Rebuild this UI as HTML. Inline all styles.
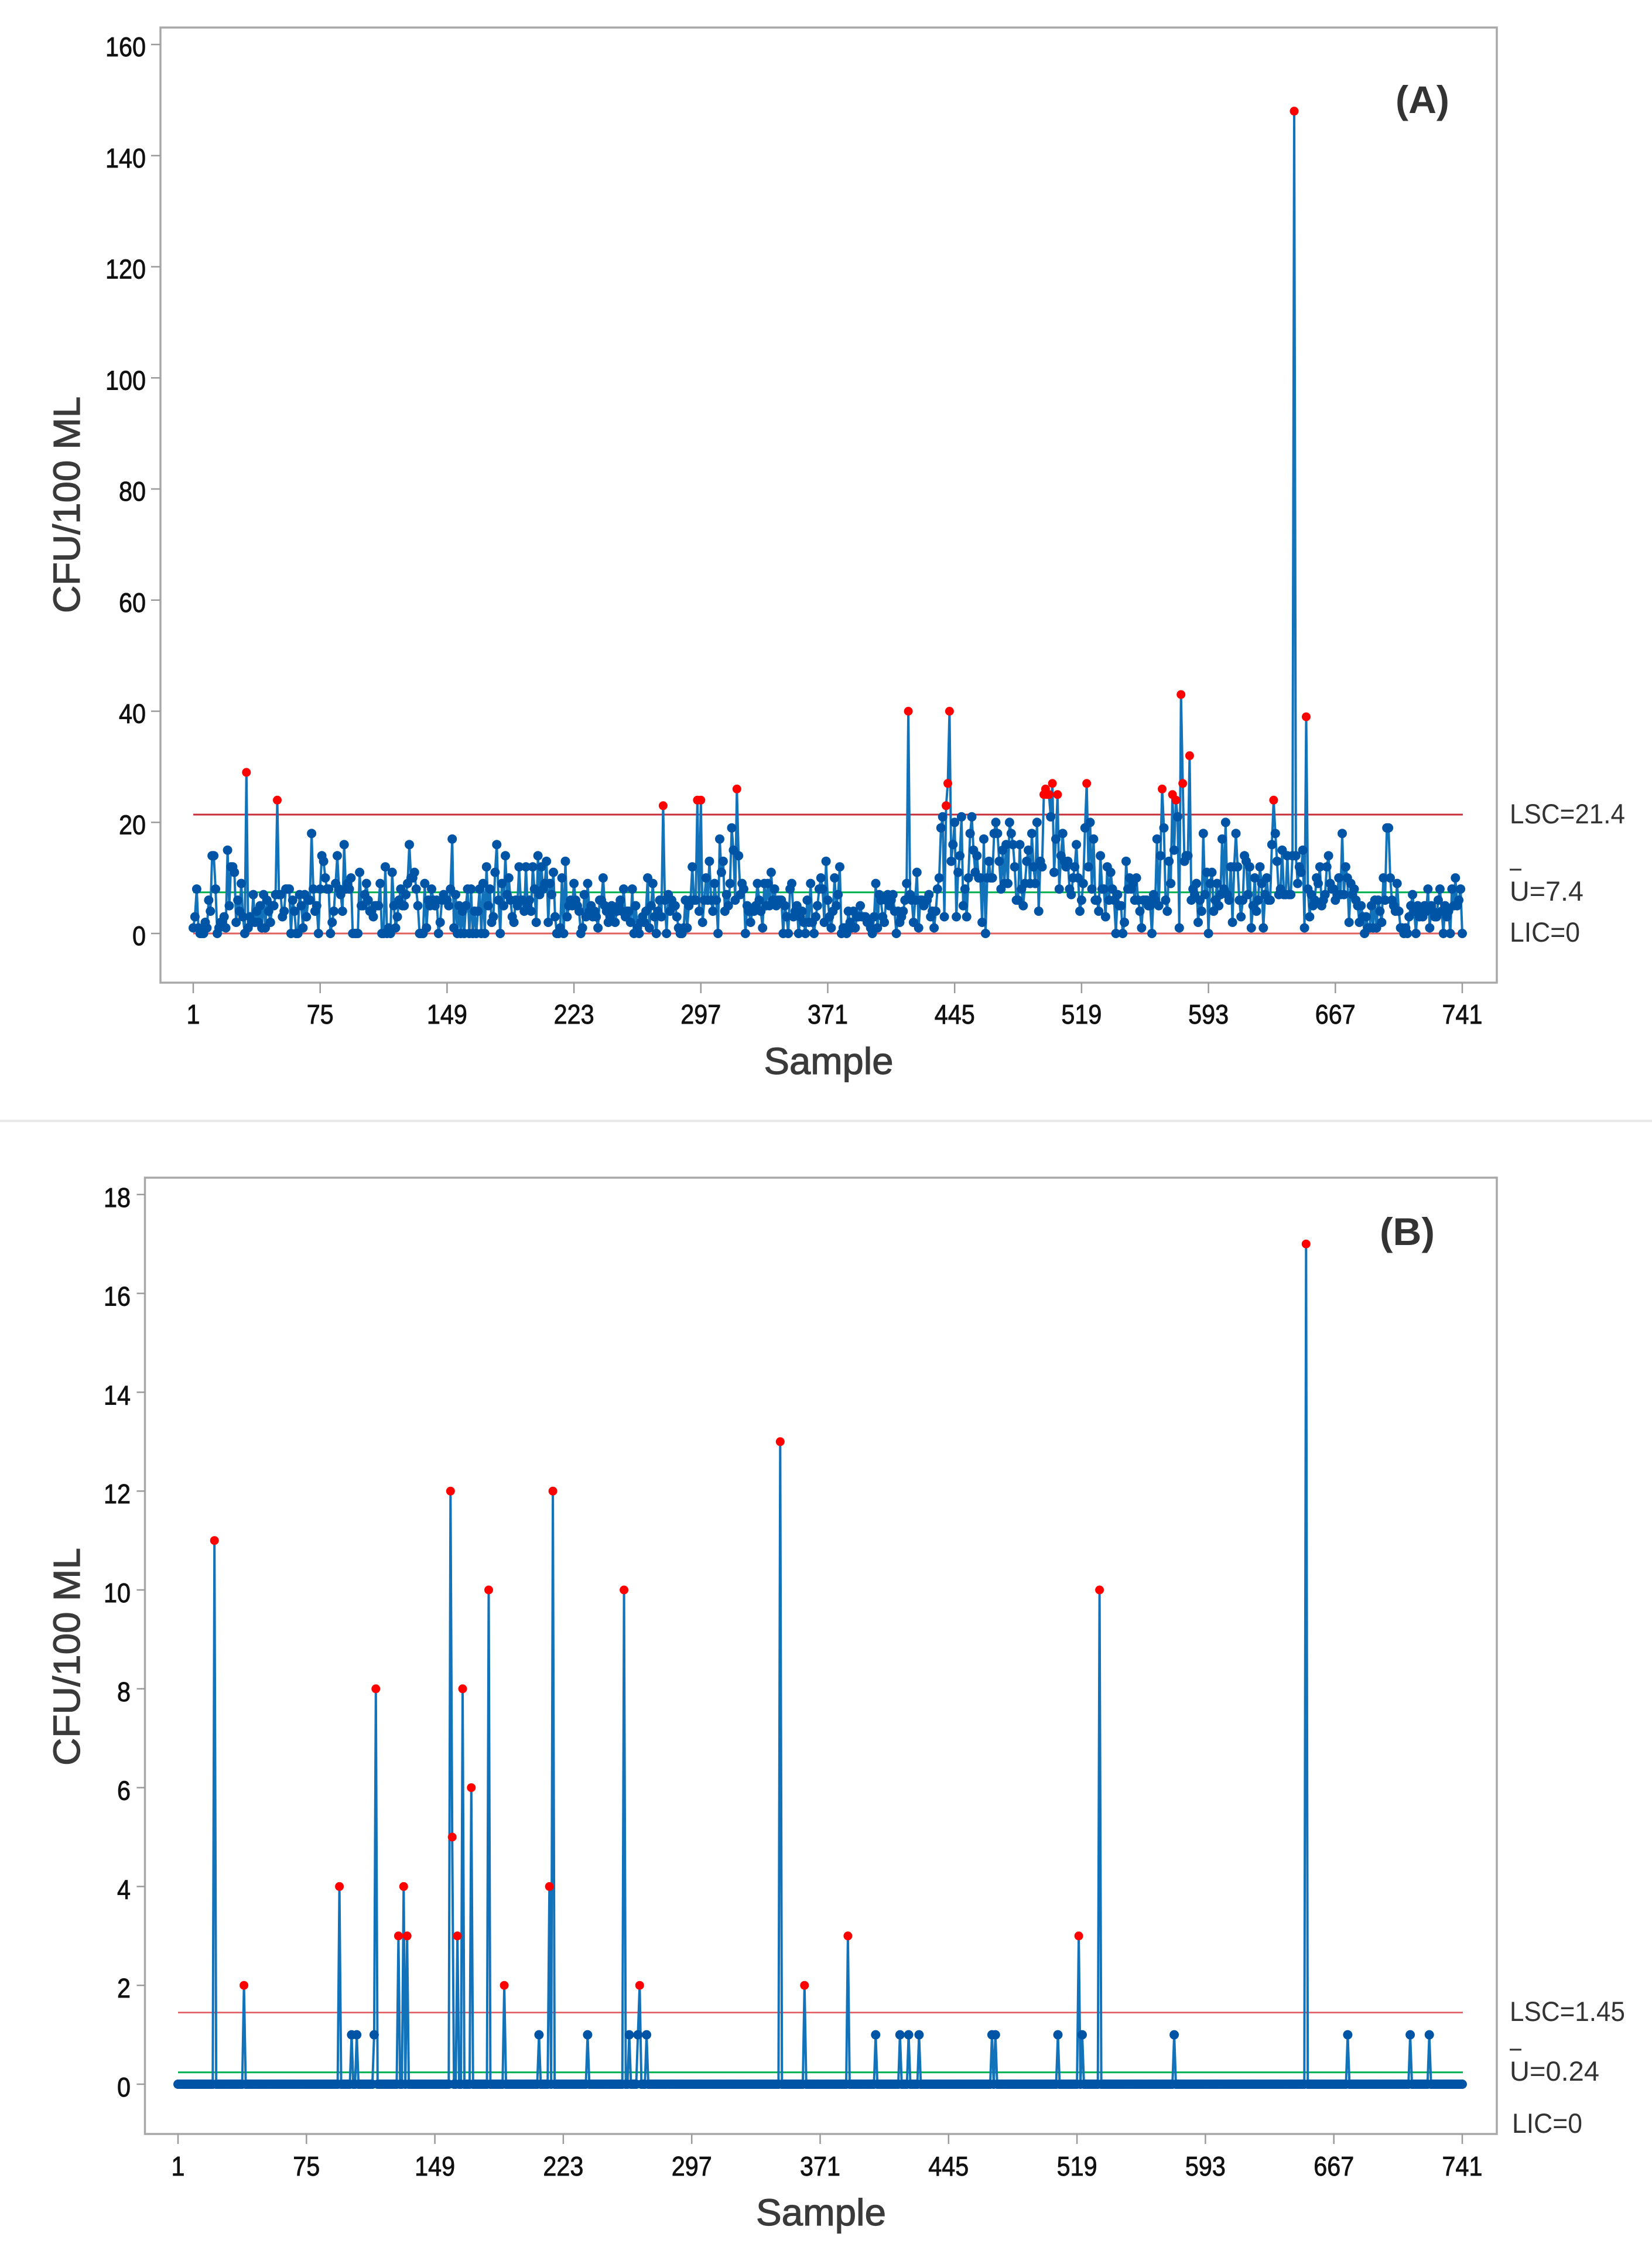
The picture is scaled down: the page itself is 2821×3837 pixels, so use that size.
<!DOCTYPE html>
<html lang="en">
<head>
<meta charset="utf-8">
<title>U control charts (A) and (B)</title>
<style>
html,body{margin:0;padding:0;background:#fff;}
svg{display:block;}
text{font-family:"Liberation Sans",sans-serif;}
#ticksA text,#ticksB text{stroke:#111111;stroke-width:0.9px;}
.axis-title{stroke:#3a3a3a;stroke-width:1.2px;}
</style>
</head>
<body>
<svg id="figure" xmlns="http://www.w3.org/2000/svg" width="2821" height="3837" viewBox="0 0 2821 3837">
  <rect x="0" y="0" width="2821" height="3837" fill="#ffffff"/>
  <line x1="0" x2="2821" y1="1914" y2="1914" stroke="#e9e9e9" stroke-width="4"/>

  <g id="panelA">
    <rect x="274" y="47" width="2282" height="1631" fill="none" stroke="#a8a8a8" stroke-width="3.5"/>
    <g id="ticksA"></g>
    <line id="uclA" stroke="#c62f38" stroke-width="3"/>
    <line id="clA" stroke="#00b04f" stroke-width="3"/>
    <line id="lclA" stroke="#e0605f" stroke-width="3"/>
    <polyline id="lineA" fill="none" stroke="#1273ba" stroke-width="4" stroke-linejoin="round"/>
    <g id="pointsA"></g>
    <text x="2429" y="193" text-anchor="middle" font-size="66" font-weight="700" fill="#333333" textLength="92" lengthAdjust="spacingAndGlyphs">(A)</text>
    <text class="axis-title" x="1415" y="1834" text-anchor="middle" font-size="64" fill="#3a3a3a" textLength="221" lengthAdjust="spacingAndGlyphs">Sample</text>
    <text class="axis-title" transform="translate(136,862) rotate(-90)" text-anchor="middle" font-size="64" fill="#3a3a3a" textLength="370" lengthAdjust="spacingAndGlyphs">CFU/100 ML</text>
    <text x="2578" y="1406" font-size="47" fill="#333333" textLength="197" lengthAdjust="spacingAndGlyphs">LSC=21.4</text>
    <line x1="2578" x2="2598" y1="1485" y2="1485" stroke="#333333" stroke-width="3"/>
    <text x="2578" y="1538" font-size="47" fill="#333333" textLength="126" lengthAdjust="spacingAndGlyphs">U=7.4</text>
    <text x="2578" y="1608" font-size="47" fill="#333333" textLength="120" lengthAdjust="spacingAndGlyphs">LIC=0</text>
  </g>

  <g id="panelB">
    <rect x="247.5" y="2011" width="2308.5" height="1633" fill="none" stroke="#a8a8a8" stroke-width="3.5"/>
    <g id="ticksB"></g>
    <line id="uclB" stroke="#e0555a" stroke-width="2.5"/>
    <line id="clB" stroke="#00b050" stroke-width="3"/>
    <polyline id="lineB" fill="none" stroke="#1273ba" stroke-width="4" stroke-linejoin="round"/>
    <g id="pointsB"></g>
    <text x="2403" y="2126" text-anchor="middle" font-size="66" font-weight="700" fill="#333333" textLength="94" lengthAdjust="spacingAndGlyphs">(B)</text>
    <text class="axis-title" x="1402" y="3800" text-anchor="middle" font-size="64" fill="#3a3a3a" textLength="222" lengthAdjust="spacingAndGlyphs">Sample</text>
    <text class="axis-title" transform="translate(136,2829) rotate(-90)" text-anchor="middle" font-size="64" fill="#3a3a3a" textLength="372" lengthAdjust="spacingAndGlyphs">CFU/100 ML</text>
    <text x="2578" y="3451" font-size="47" fill="#333333" textLength="197" lengthAdjust="spacingAndGlyphs">LSC=1.45</text>
    <line x1="2578" x2="2598" y1="3500" y2="3500" stroke="#333333" stroke-width="3"/>
    <text x="2578" y="3553" font-size="47" fill="#333333" textLength="153" lengthAdjust="spacingAndGlyphs">U=0.24</text>
    <text x="2582" y="3642" font-size="47" fill="#333333" textLength="120" lengthAdjust="spacingAndGlyphs">LIC=0</text>
  </g>
</svg>

<script>
// Shared sample-axis tick labels
var sampleTicks = [1, 75, 149, 223, 297, 371, 445, 519, 593, 667, 741];
var yTicksA = [0, 20, 40, 60, 80, 100, 120, 140, 160];
var yTicksB = [0, 2, 4, 6, 8, 10, 12, 14, 16, 18];

// Control limits
var limitsA = [21.4, 7.4, 0];
var limitsB = [1.45, 0.24, 0];

// Panel A: CFU/100 ML per sample (10 values per row)
var valuesA = [
1,3,8,1,0,0,0,2,1,6,
4,14,14,8,0,1,2,2,3,1,
15,5,12,12,11,2,6,4,9,3,
0,29,1,3,2,7,2,4,2,5,
1,7,1,6,4,2,5,5,7,24,
7,7,3,4,8,8,8,0,6,4,
0,0,7,5,1,7,3,6,6,18,
8,4,5,0,8,14,13,10,8,8,
0,2,4,9,14,8,7,4,16,8,
9,8,10,0,0,0,0,11,5,5,
7,9,6,4,4,3,5,5,5,9,
0,0,12,0,1,0,11,5,1,3,
6,8,5,5,7,9,16,10,10,11,
8,5,0,0,0,9,1,6,5,8,
6,5,6,0,2,6,7,6,6,5,
8,17,1,7,0,5,0,4,0,5,
8,0,8,0,4,0,4,8,0,9,
0,12,5,8,2,3,11,16,6,0,
9,5,14,7,10,6,3,2,6,5,
12,6,6,4,12,5,6,4,12,8,
2,14,7,12,8,9,13,2,9,7,
11,3,0,0,1,10,0,13,3,5,
6,5,9,6,5,4,0,1,7,3,
9,4,5,3,4,3,1,6,6,10,
5,4,2,3,5,4,2,4,5,6,
4,8,3,4,4,2,8,0,5,1,
0,2,3,2,4,10,1,5,9,3,
0,4,6,3,23,6,0,7,4,6,
5,5,3,1,0,0,1,6,1,5,
6,12,6,6,24,4,24,2,6,10,
6,13,6,4,9,6,0,17,11,13,
4,7,5,9,19,15,6,26,14,7,
9,8,0,5,4,2,4,4,5,9,
6,4,1,9,5,9,5,11,6,8,
5,6,6,6,0,5,3,0,8,9,
3,4,5,0,3,4,2,0,6,2,
9,2,0,3,5,8,10,8,2,13,
6,3,1,4,10,5,7,12,0,1,
1,0,4,2,1,4,1,3,3,5,
3,3,3,2,2,1,0,3,9,1,
7,6,3,2,6,7,5,6,7,4,
0,4,2,3,4,6,9,40,7,6,
2,6,11,1,6,6,5,6,6,7,
3,4,1,4,8,10,19,21,3,23,
27,40,13,16,20,3,11,14,21,5,
8,3,10,18,21,15,11,14,10,10,
2,17,0,10,13,10,10,18,20,18,
13,8,15,9,16,9,20,18,16,12,
6,6,16,8,5,9,13,15,9,18,
12,9,20,4,13,12,25,26,25,25,
21,27,11,17,25,8,14,18,13,12,
13,8,7,10,12,16,10,4,6,9,
19,27,12,20,8,17,6,6,4,14,
8,8,3,12,6,11,8,6,0,7,
5,5,0,2,13,8,10,8,9,6,
10,6,4,1,6,6,6,5,5,0,
7,6,17,5,14,26,19,6,4,13,
9,25,15,24,21,1,43,27,13,14,
14,32,6,8,7,9,2,6,4,18,
7,11,0,9,11,4,6,9,5,7,
17,8,20,7,6,12,2,12,18,12,
6,3,6,14,13,7,12,1,5,10,
4,6,12,9,1,7,10,6,6,16,
24,18,13,7,8,15,7,7,14,7,
7,14,148,14,9,12,11,15,1,39,
8,3,7,5,6,10,9,12,5,6,
7,12,14,9,8,8,6,7,10,7,
18,7,12,10,2,9,7,8,6,5,
2,5,3,0,3,1,1,5,1,6,
1,6,4,2,10,6,19,19,10,6,
5,4,9,4,1,1,0,1,0,3,
5,7,4,0,5,3,4,3,5,4,
8,1,5,4,3,3,6,8,4,0,
5,3,4,0,8,5,10,5,6,8,
0
];

// Panel B: sample numbers with non-zero counts and their counts; all other samples are 0
var sampleCountB = 741;
var spikeSamplesB = [22,39,94,101,104,114,115,128,131,133,158,159,162,165,170,180,189,209,215,217,237,258,261,266,267,271,348,362,387,403,417,422,428,470,472,508,520,522,532,575,651,675,711,722];
var spikeValuesB  = [11,2,4,1,1,1,8,3,4,3,12,5,3,8,6,10,2,1,4,12,1,10,1,1,2,1,13,2,3,1,1,1,1,1,1,1,3,1,10,1,17,1,1,1];

var SVGNS = 'http://www.w3.org/2000/svg';

// Axis functions
function xA(n){ return 330 + (n - 1) * (2497 - 330) / 740; }
function yA(v){ return 1594 - v * 9.4875; }
function xB(n){ return 304 + (n - 1) * (2497 - 304) / 740; }
function yB(v){ return 3559 - v * 84.4; }

function drawTicks(groupId, panel, xFn, yFn, xLeft, yBottom, xTickLen, yTickLen, xLabelBase, yLabelRight, yLabelDrop, yTicks) {
  var g = document.getElementById(groupId);
  sampleTicks.forEach(function (t) {
    var tick = document.createElementNS(SVGNS, 'line');
    
    
    tick.setAttribute('x1', xFn(t));
    tick.setAttribute('x2', xFn(t));
    tick.setAttribute('y1', yBottom);
    tick.setAttribute('y2', yBottom + xTickLen);
    tick.setAttribute('stroke', '#9a9a9a');
    tick.setAttribute('stroke-width', '2.5');
    g.appendChild(tick);
    var label = document.createElementNS(SVGNS, 'text');
    
    
    label.setAttribute('x', xFn(t));
    label.setAttribute('y', xLabelBase);
    label.setAttribute('text-anchor', 'middle');
    label.setAttribute('font-size', '46');
    label.setAttribute('fill', '#111111');
    label.setAttribute('textLength', String(t).length * 23);
    label.setAttribute('lengthAdjust', 'spacingAndGlyphs');
    label.textContent = String(t);
    g.appendChild(label);
  });
  yTicks.forEach(function (t) {
    var tick = document.createElementNS(SVGNS, 'line');
    
    
    tick.setAttribute('x1', xLeft - yTickLen);
    tick.setAttribute('x2', xLeft);
    tick.setAttribute('y1', yFn(t));
    tick.setAttribute('y2', yFn(t));
    tick.setAttribute('stroke', '#9a9a9a');
    tick.setAttribute('stroke-width', '2.5');
    g.appendChild(tick);
    var label = document.createElementNS(SVGNS, 'text');
    
    
    label.setAttribute('x', yLabelRight);
    label.setAttribute('y', yFn(t) + yLabelDrop);
    label.setAttribute('text-anchor', 'end');
    label.setAttribute('font-size', '46');
    label.setAttribute('fill', '#111111');
    label.setAttribute('textLength', String(t).length * 23);
    label.setAttribute('lengthAdjust', 'spacingAndGlyphs');
    label.textContent = String(t);
    g.appendChild(label);
  });
}

function placeLimit(id, yFn, value, x1, x2) {
  var el = document.getElementById(id);
  el.setAttribute('x1', x1);
  el.setAttribute('x2', x2);
  el.setAttribute('y1', yFn(value));
  el.setAttribute('y2', yFn(value));
}

function drawSeries(lineId, pointsId, panel, values, xFn, yFn, ucl) {
  var pts = [];
  for (var i = 0; i < values.length; i++) {
    pts.push(xFn(i + 1).toFixed(1) + ',' + yFn(values[i]).toFixed(1));
  }
  document.getElementById(lineId).setAttribute('points', pts.join(' '));
  var g = document.getElementById(pointsId);
  var reds = [];
  for (var k = 0; k < values.length; k++) {
    if (values[k] > ucl) { reds.push(k); continue; }
    var c = document.createElementNS(SVGNS, 'circle');
    
    
    c.setAttribute('cx', xFn(k + 1).toFixed(1));
    c.setAttribute('cy', yFn(values[k]).toFixed(1));
    c.setAttribute('r', '8');
    c.setAttribute('fill', '#0054a6');
    g.appendChild(c);
  }
  reds.forEach(function (idx) {
    var c = document.createElementNS(SVGNS, 'circle');
    
    
    c.setAttribute('cx', xFn(idx + 1).toFixed(1));
    c.setAttribute('cy', yFn(values[idx]).toFixed(1));
    c.setAttribute('r', '7.5');
    c.setAttribute('fill', '#ff0000');
    g.appendChild(c);
  });
}

// Panel A
drawTicks('ticksA', 'a', xA, yA, 274, 1678, 18, 16, 1748, 249, 20, yTicksA);
placeLimit('uclA', yA, limitsA[0], xA(1), 2498);
placeLimit('clA', yA, limitsA[1], xA(1), 2498);
placeLimit('lclA', yA, limitsA[2], xA(1), 2498);
drawSeries('lineA', 'pointsA', 'a', valuesA, xA, yA, limitsA[0]);

// Panel B: expand the sparse readings to the full sample list
var valuesB = [];
for (var s = 0; s < sampleCountB; s++) { valuesB.push(0); }
spikeSamplesB.forEach(function (n, i) { valuesB[n - 1] = spikeValuesB[i]; });

drawTicks('ticksB', 'b', xB, yB, 247.5, 3644, 17, 14, 3715, 223, 21, yTicksB);
placeLimit('uclB', yB, limitsB[0], xB(1), 2498);
placeLimit('clB', yB, limitsB[1], xB(1), 2498);
drawSeries('lineB', 'pointsB', 'b', valuesB, xB, yB, limitsB[0]);
</script>
</body>
</html>
